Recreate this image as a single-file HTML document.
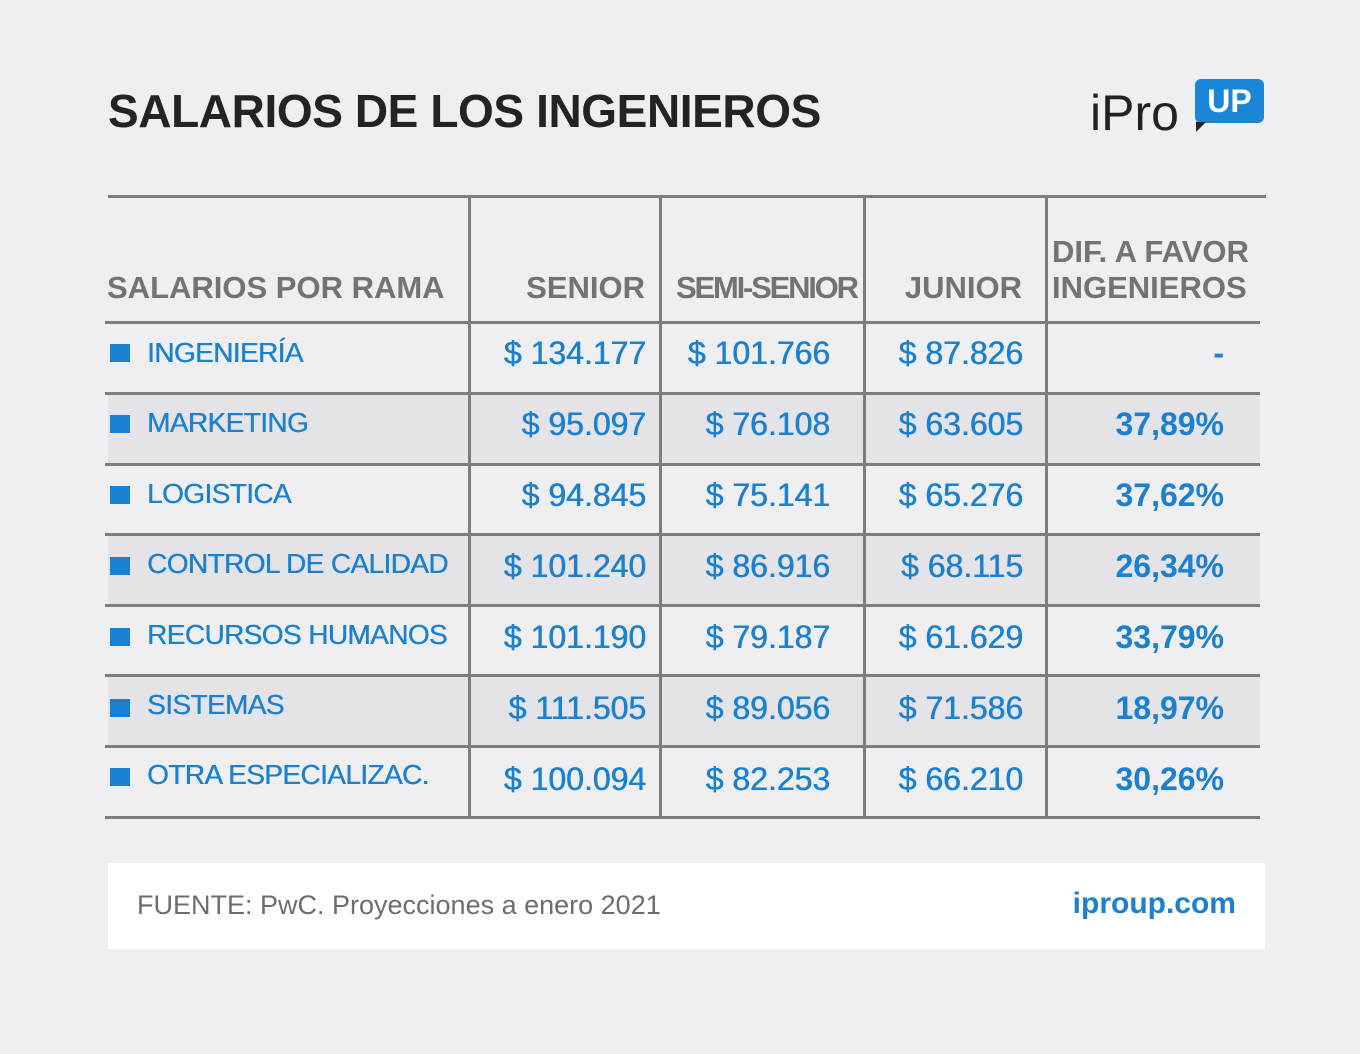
<!DOCTYPE html>
<html><head><meta charset="utf-8"><style>
*{margin:0;padding:0;box-sizing:border-box}
body{width:1360px;height:1054px;background:#efeef1;position:relative;overflow:hidden;font-family:"Liberation Sans",sans-serif}
.a{position:absolute;white-space:nowrap}
.h{color:#737275;font-weight:bold;font-size:31px}
.hl{position:absolute;height:3px;background:#7d7c7f}
.vl{position:absolute;width:3px;background:#7d7c7f;top:198px;height:620px}
.sh{position:absolute;left:108px;width:1152px;height:70px;background:#e4e3e7}
.n{color:#1a80d2;font-size:28px;letter-spacing:-0.6px;left:147px;text-shadow:0.4px 0 #1a80d2}
.sq{position:absolute;left:110px;width:20px;height:18px;background:#1a80d2}
.v{color:#1a80d2;font-size:32px;text-align:right;width:220px;text-shadow:0.6px 0 #1a80d2}
.d{color:#1a80d2;font-size:32px;font-weight:bold;text-align:right;width:200px}
</style></head><body>
<div class="a" style="left:108px;top:84px;font-size:46px;font-weight:bold;color:#232225;letter-spacing:-0.4px">SALARIOS DE LOS INGENIEROS</div>
<div class="a" style="left:1090px;top:84px;font-size:50px;color:#222;letter-spacing:0px">iPro</div>
<div class="a" style="left:1195px;top:79px;width:69px;height:44px;background:#1a86d6;border-radius:6px;color:#fff;font-weight:bold;font-size:32px;text-align:center;line-height:44px">UP</div>
<div class="a" style="left:1196px;top:122px;width:0;height:0;border-left:10px solid #222;border-bottom:10px solid transparent"></div>

<div class="sh" style="top:394px"></div>
<div class="sh" style="top:535px"></div>
<div class="sh" style="top:676px"></div>

<div class="hl" style="left:108px;width:1158px;top:195px"></div>
<div class="hl" style="left:105px;width:1155px;top:321px"></div>
<div class="hl" style="left:105px;width:1155px;top:392px"></div>
<div class="hl" style="left:105px;width:1155px;top:463px"></div>
<div class="hl" style="left:105px;width:1155px;top:533px"></div>
<div class="hl" style="left:105px;width:1155px;top:604px"></div>
<div class="hl" style="left:105px;width:1155px;top:674px"></div>
<div class="hl" style="left:105px;width:1155px;top:745px"></div>
<div class="hl" style="left:105px;width:1155px;top:816px"></div>
<div class="vl" style="left:468px"></div>
<div class="vl" style="left:659px"></div>
<div class="vl" style="left:863px"></div>
<div class="vl" style="left:1045px"></div>

<div class="a h" style="left:107px;top:270px">SALARIOS POR RAMA</div>
<div class="a h" style="left:445px;top:270px;width:200px;text-align:right">SENIOR</div>
<div class="a h" style="left:676px;top:270px;letter-spacing:-2.2px">SEMI-SENIOR</div>
<div class="a h" style="left:822px;top:270px;width:200px;text-align:right">JUNIOR</div>
<div class="a h" style="left:1052px;top:234px;line-height:36px">DIF. A FAVOR<br>INGENIEROS</div>

<div class="sq" style="top:344px"></div><div class="a n" style="top:337px">INGENIERÍA</div>
<div class="a v" style="left:426px;top:335px">$ 134.177</div><div class="a v" style="left:610px;top:335px">$ 101.766</div><div class="a v" style="left:803px;top:335px">$ 87.826</div><div class="a d" style="left:1024px;top:335px">-</div>

<div class="sq" style="top:415px"></div><div class="a n" style="top:407px">MARKETING</div>
<div class="a v" style="left:426px;top:406px">$ 95.097</div><div class="a v" style="left:610px;top:406px">$ 76.108</div><div class="a v" style="left:803px;top:406px">$ 63.605</div><div class="a d" style="left:1024px;top:406px">37,89%</div>

<div class="sq" style="top:486px"></div><div class="a n" style="top:478px">LOGISTICA</div>
<div class="a v" style="left:426px;top:477px">$ 94.845</div><div class="a v" style="left:610px;top:477px">$ 75.141</div><div class="a v" style="left:803px;top:477px">$ 65.276</div><div class="a d" style="left:1024px;top:477px">37,62%</div>

<div class="sq" style="top:557px"></div><div class="a n" style="top:548px">CONTROL DE CALIDAD</div>
<div class="a v" style="left:426px;top:548px">$ 101.240</div><div class="a v" style="left:610px;top:548px">$ 86.916</div><div class="a v" style="left:803px;top:548px">$ 68.115</div><div class="a d" style="left:1024px;top:548px">26,34%</div>

<div class="sq" style="top:628px"></div><div class="a n" style="top:619px">RECURSOS HUMANOS</div>
<div class="a v" style="left:426px;top:619px">$ 101.190</div><div class="a v" style="left:610px;top:619px">$ 79.187</div><div class="a v" style="left:803px;top:619px">$ 61.629</div><div class="a d" style="left:1024px;top:619px">33,79%</div>

<div class="sq" style="top:699px"></div><div class="a n" style="top:689px">SISTEMAS</div>
<div class="a v" style="left:426px;top:690px">$ 111.505</div><div class="a v" style="left:610px;top:690px">$ 89.056</div><div class="a v" style="left:803px;top:690px">$ 71.586</div><div class="a d" style="left:1024px;top:690px">18,97%</div>

<div class="sq" style="top:768px"></div><div class="a n" style="top:759px">OTRA ESPECIALIZAC.</div>
<div class="a v" style="left:426px;top:761px">$ 100.094</div><div class="a v" style="left:610px;top:761px">$ 82.253</div><div class="a v" style="left:803px;top:761px">$ 66.210</div><div class="a d" style="left:1024px;top:761px">30,26%</div>

<div class="a" style="left:108px;top:863px;width:1157px;height:86px;background:#fff"></div>
<div class="a" style="left:137px;top:890px;font-size:27px;color:#6d6c70">FUENTE: PwC. Proyecciones a enero 2021</div>
<div class="a" style="left:1036px;top:887px;width:200px;text-align:right;font-size:30px;font-weight:bold;color:#1a80d2">iproup.com</div>
</body></html>
